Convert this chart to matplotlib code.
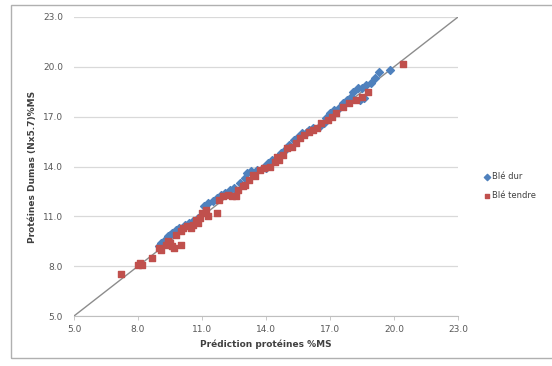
import numpy as np
import matplotlib.pyplot as plt
from matplotlib.patches import Rectangle

# Blé dur (blue)
dur_x = [9.0, 9.1, 9.2, 9.3, 9.4, 9.5, 9.6, 9.8, 9.9, 10.0, 10.2, 10.4, 10.6, 10.8,
         11.1, 11.3, 11.5, 11.7, 11.9, 12.1, 12.3, 12.5, 12.8, 13.0, 13.1, 13.3, 13.6,
         13.9, 14.1, 14.3, 14.5, 14.7, 14.9, 15.1, 15.3, 15.5, 15.7, 15.9, 16.2, 16.5,
         16.7, 16.8, 17.0, 17.2, 17.4, 17.6, 17.8, 18.0, 18.1, 18.3, 18.5, 18.7, 18.9,
         19.1, 19.3, 19.8, 18.4, 18.6, 16.0, 14.0]
dur_y = [9.2, 9.4, 9.5, 9.6, 9.8, 9.9, 10.0, 10.2, 10.3, 10.2, 10.5, 10.6, 10.7, 10.9,
         11.6, 11.8, 11.9, 12.1, 12.3, 12.4, 12.6, 12.7, 13.0, 13.3, 13.6, 13.7, 13.8,
         14.0, 14.2, 14.4, 14.5, 14.8, 15.0, 15.3, 15.6, 15.8, 16.0, 16.1, 16.3, 16.4,
         16.6, 16.9, 17.2, 17.4, 17.5, 17.8, 18.0, 18.2, 18.5, 18.7, 18.7, 18.9, 19.0,
         19.3, 19.7, 19.8, 18.0, 18.1, 16.2, 13.9]

# Blé tendre (red)
tendre_x = [7.2, 8.0, 8.1, 8.2, 8.65, 9.0, 9.1, 9.3, 9.4, 9.5, 9.6, 9.7, 9.8, 10.0,
            10.0, 10.1, 10.3, 10.5, 10.6, 10.7, 10.8, 10.9, 11.0, 11.2, 11.3, 11.7,
            11.8, 12.0, 12.2, 12.4, 12.6, 12.7, 12.9, 13.0, 13.2, 13.4, 13.5, 13.7,
            13.9, 14.2, 14.4, 14.5, 14.6, 14.8, 15.0, 15.2, 15.4, 15.6, 15.8, 16.0,
            16.2, 16.4, 16.6, 16.9, 17.1, 17.3, 17.6, 17.9, 18.2, 18.5, 18.8, 20.4]
tendre_y = [7.5, 8.1, 8.2, 8.1, 8.5, 9.1, 9.0, 9.3, 9.5, 9.4, 9.2, 9.1, 9.9, 10.1,
            9.3, 10.3, 10.4, 10.3, 10.5, 10.8, 10.6, 10.9, 11.2, 11.4, 11.0, 11.2,
            12.0, 12.2, 12.3, 12.2, 12.2, 12.6, 12.8, 12.9, 13.2, 13.5, 13.4, 13.8,
            13.9, 14.0, 14.3, 14.6, 14.4, 14.7, 15.1, 15.2, 15.4, 15.7, 15.9, 16.1,
            16.2, 16.3, 16.6, 16.8, 17.0, 17.2, 17.6, 17.8, 18.0, 18.2, 18.5, 20.2]

ticks = [5.0, 8.0, 11.0, 14.0, 17.0, 20.0, 23.0]

fig = plt.figure(figsize=(5.52, 3.66), dpi=100)
fig.patches.append(Rectangle((11 / 552, 8 / 366), 1.0, 353 / 366, transform=fig.transFigure,
                             fill=False, edgecolor='#b0b0b0', linewidth=1.0))
ax = fig.add_axes([74 / 552, 50 / 366, 384 / 552, 299 / 366])

ax.plot([5, 23], [5, 23], color='#8c8c8c', linewidth=1.0, zorder=2)
ax.scatter(dur_x, dur_y, marker='D', s=16, color='#4f81bd', label='Blé dur', zorder=3)
ax.scatter(tendre_x, tendre_y, marker='s', s=14, color='#c0504d', label='Blé tendre', zorder=4)

ax.set_xlim(5, 23)
ax.set_ylim(5, 23)
ax.set_xticks(ticks)
ax.set_yticks(ticks)
ax.set_xticklabels([f"{t:.1f}" for t in ticks])
ax.set_yticklabels([f"{t:.1f}" for t in ticks])
ax.tick_params(labelsize=6.5, colors='#595959', length=3, width=0.6)
ax.tick_params(axis='y', length=0, pad=8)
ax.tick_params(axis='x', color='#bfbfbf')
ax.grid(True, axis='y', color='#d9d9d9', linewidth=0.9)
ax.set_axisbelow(True)
for s in ['top', 'right', 'left']:
    ax.spines[s].set_visible(False)
ax.spines['bottom'].set_color('#bfbfbf')

ax.set_xlabel('Prédiction protéines %MS', fontsize=6.5, fontweight='bold', color='#404040', labelpad=4)
ax.set_ylabel('Protéines Dumas (Nx5.7)%MS', fontsize=6.5, fontweight='bold', color='#404040', labelpad=4)

ax.legend(loc='center left', bbox_to_anchor=(1.055, 0.435), frameon=False, fontsize=6,
          handletextpad=0.1, handlelength=1.0, markerscale=0.8, labelspacing=1.2,
          labelcolor='#404040', borderaxespad=0)

plt.savefig('out.png', dpi=100)
